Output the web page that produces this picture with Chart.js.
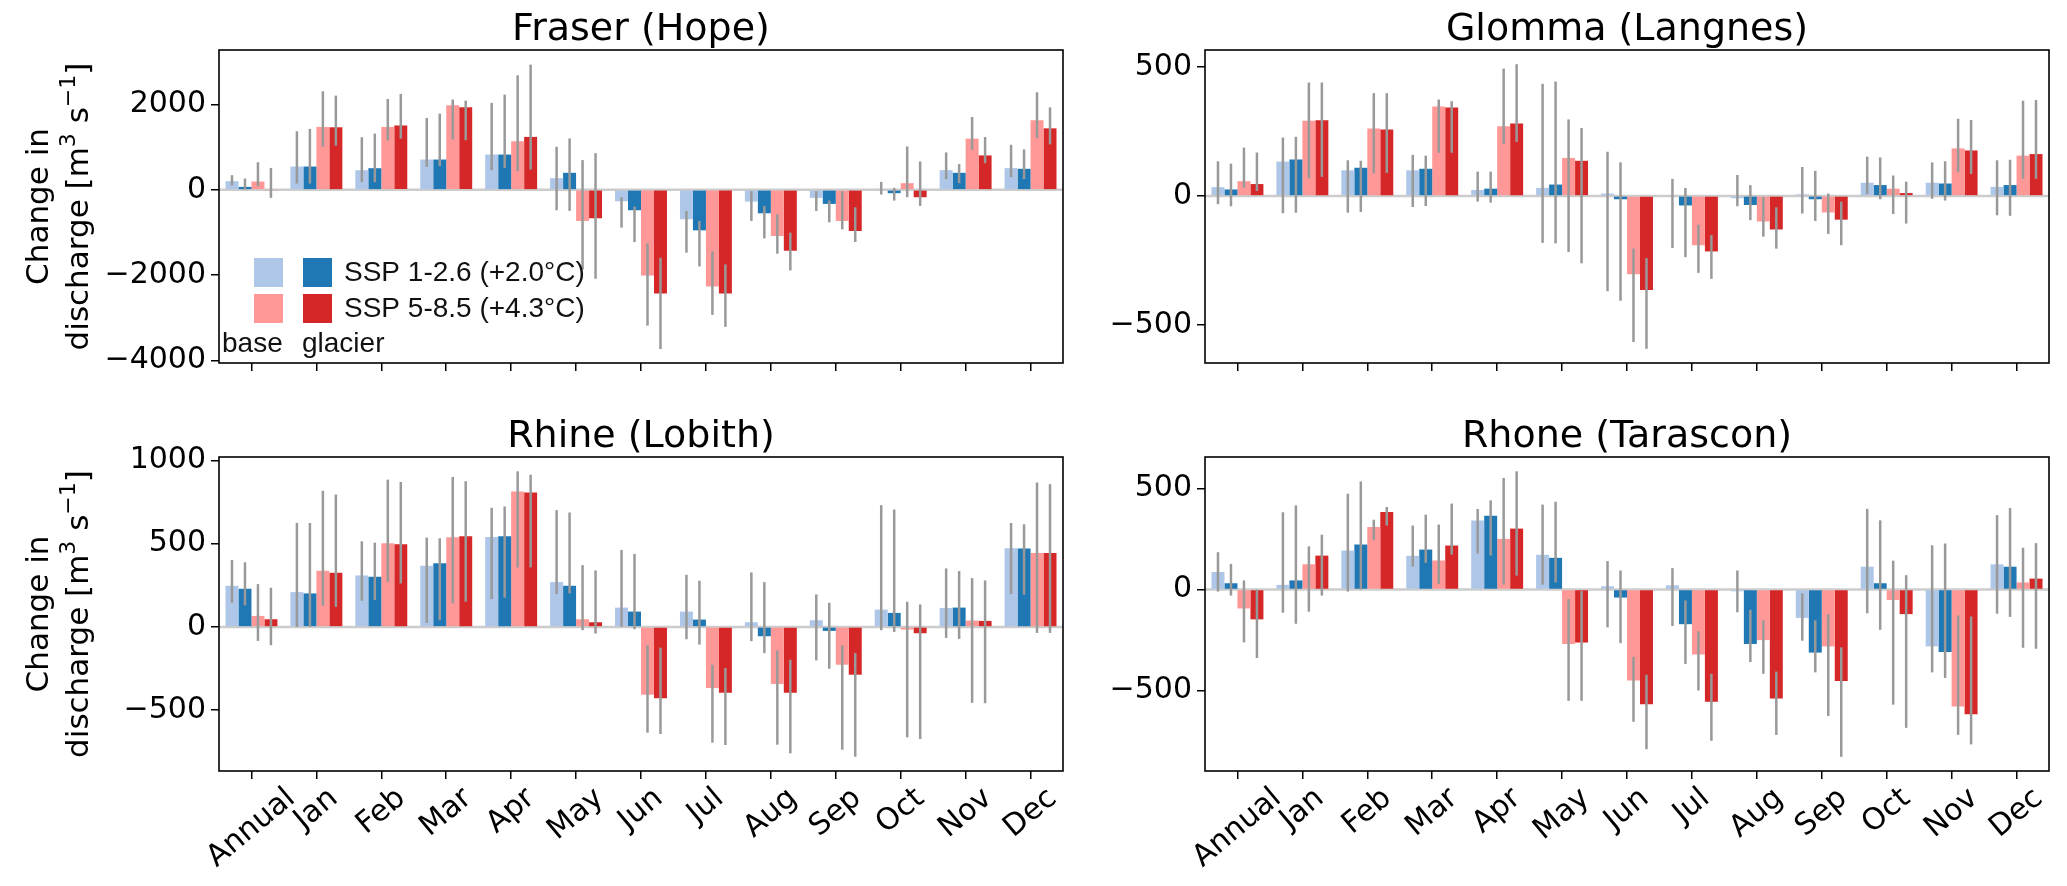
<!DOCTYPE html>
<html>
<head>
<meta charset="utf-8">
<script src="https://cdn.jsdelivr.net/npm/chart.js@4.4.0/dist/chart.umd.min.js"></script>
<style>
  body { margin: 0; background: #fff; width: 2067px; height: 886px; overflow: hidden; position: relative; }
  canvas { position: absolute; }
</style>
</head>
<body>
<canvas id="fraser" width="1100" height="400" style="left:0;top:0"></canvas>
<canvas id="glomma" width="967" height="400" style="left:1100px;top:0"></canvas>
<canvas id="rhine" width="1100" height="486" style="left:0;top:400px"></canvas>
<canvas id="rhone" width="967" height="486" style="left:1100px;top:400px"></canvas>
<script>
const months = ['Annual', 'Jan', 'Feb', 'Mar', 'Apr', 'May', 'Jun', 'Jul', 'Aug', 'Sep', 'Oct', 'Nov', 'Dec'];

// Fraser (Hope)
const fraserBase126 = [203, 547, 461, 711, 828, 274, -267, -690, -274, -188, 24, 463, 510];
const fraserGlac126 = [70, 547, 508, 711, 828, 400, -478, -949, -549, -329, -78, 400, 494];
const fraserBase585 = [195, 1476, 1476, 1984, 1140, -729, -2007, -2266, -1082, -729, 157, 1200, 1631];
const fraserGlac585 = [-15, 1468, 1507, 1937, 1242, -666, -2430, -2430, -1427, -964, -172, 808, 1443];
const fraserBase126Err = [[344,102],[1375,148],[1234,180],[1687,539],[2039,461],[1011,-478],[-172,-886],[-494,-1474],[-31,-729],[-31,-494],[188,-110],[878,251],[1058,298]];
const fraserGlac126Err = [[266,8],[1430,148],[1320,180],[1789,555],[2234,515],[1207,-494],[-392,-1223],[-729,-1795],[-376,-1137],[-251,-760],[47,-251],[604,157],[949,251]];
const fraserBase585Err = [[648,86],[2312,1008],[2132,1156],[2117,1180],[2687,437],[698,-1866],[-1254,-3183],[-1443,-2932],[-572,-1497],[-31,-925],[1019,-172],[1709,941],[2289,1215]];
const fraserGlac585Err = [[515,-187],[2210,1039],[2250,1203],[2093,1164],[2937,476],[862,-2085],[-1591,-3732],[-1748,-3214],[-1003,-1889],[-408,-1223],[666,-376],[1239,627],[1936,1066]];
const fraserTicks = [-4000, -2000, 0, 2000];

// Glomma (Langnes)
const glommaBase126 = [34, 133, 99, 99, 23, 31, 9, -4, -9, 6, 51, 51, 35];
const glommaGlac126 = [25, 141, 109, 105, 28, 44, -13, -37, -35, -13, 42, 48, 42];
const glommaBase585 = [57, 291, 261, 346, 270, 147, -303, -191, -99, -64, 28, 184, 156];
const glommaGlac585 = [46, 293, 257, 342, 280, 136, -364, -215, -130, -92, 11, 176, 162];
const glommaBase126Err = [[134,-32],[226,-67],[138,-65],[159,-43],[94,-22],[434,-182],[171,-369],[66,-202],[81,-40],[112,-68],[152,7],[130,-11],[138,-75]];
const glommaGlac126Err = [[125,-40],[229,-65],[136,-62],[156,-39],[94,-26],[443,-184],[130,-406],[31,-237],[42,-94],[97,-97],[149,-13],[134,-18],[140,-77]];
const glommaBase585Err = [[187,32],[439,68],[398,87],[373,167],[493,201],[296,-217],[-204,-566],[-112,-298],[-4,-158],[9,-147],[79,-70],[299,92],[369,66]];
const glommaGlac585Err = [[168,19],[439,74],[398,89],[367,167],[510,209],[263,-261],[-241,-592],[-152,-321],[-44,-204],[-22,-191],[55,-107],[294,85],[371,66]];
const glommaTicks = [-500, 0, 500];

// Rhine (Lobith)
const rhineBase126 = [247, 209, 309, 367, 540, 269, 116, 92, 28, 40, 104, 114, 472];
const rhineGlac126 = [229, 201, 301, 382, 544, 247, 92, 44, -56, -24, 84, 116, 470];
const rhineBase585 = [66, 337, 502, 538, 813, 46, -408, -367, -343, -227, -16, 38, 444];
const rhineGlac585 = [46, 325, 496, 544, 807, 28, -428, -396, -396, -287, -38, 36, 444];
const rhineBase126Err = [[402,145],[624,0],[514,157],[536,24],[715,167],[701,197],[462,0],[313,-74],[327,-86],[195,-201],[731,-20],[351,-66],[624,197]];
const rhineGlac126Err = [[388,129],[624,0],[506,161],[532,40],[723,175],[687,201],[438,-14],[277,-106],[269,-157],[145,-251],[705,-30],[335,-72],[616,193]];
const rhineBase585Err = [[257,-84],[817,127],[884,271],[900,141],[934,357],[371,-20],[-110,-635],[-227,-695],[-141,-707],[-110,-737],[151,-663],[293,-456],[867,-36]];
const rhineGlac585Err = [[235,-110],[795,120],[870,261],[875,151],[914,357],[339,-40],[-124,-643],[-247,-709],[-197,-759],[-157,-779],[135,-673],[279,-458],[857,-36]];
const rhineTicks = [-500, 0, 500, 1000];

// Rhone (Tarascon)
const rhoneBase126 = [87, 23, 193, 167, 342, 172, 16, 21, -9, -141, 113, -282, 125];
const rhoneGlac126 = [31, 45, 223, 198, 366, 157, -40, -172, -270, -313, 31, -310, 113];
const rhoneBase585 = [-94, 125, 310, 144, 251, -270, -451, -322, -251, -282, -52, -580, 35];
const rhoneGlac585 = [-148, 168, 384, 218, 302, -263, -569, -557, -540, -454, -122, -618, 54];
const rhoneBase126Err = [[185,-10],[383,-115],[475,-10],[317,114],[399,178],[421,24],[141,-188],[106,-181],[94,-113],[-19,-254],[400,-118],[219,-411],[369,-120]];
const rhoneGlac126Err = [[127,-30],[417,-170],[536,0],[371,132],[442,168],[435,35],[94,-266],[-54,-369],[-101,-360],[-153,-411],[343,-200],[228,-439],[404,-136]];
const rhoneBase585Err = [[45,-262],[214,-110],[346,244],[322,28],[553,25],[-47,-552],[-334,-656],[-207,-501],[-153,-418],[-122,-627],[143,-571],[-129,-721],[207,-289]];
const rhoneGlac585Err = [[0,-340],[272,-30],[409,317],[426,173],[586,69],[-7,-552],[-423,-792],[-418,-750],[-407,-721],[-287,-830],[71,-686],[-134,-768],[230,-294]];
const rhoneTicks = [-500, 0, 500];

const legendLabels = ['SSP 1-2.6 (+2.0°C)', 'SSP 5-8.5 (+4.3°C)'];
const colores = ['#aec7e8', '#1f77b4', '#ff9896', '#d62728'];

Chart.defaults.font.family = '"DejaVu Sans"';
Chart.defaults.color = '#000';

function menos(v) {
  return v < 0 ? '\u2212' + Math.abs(v) : String(v);
}

// texto con superindices tipo mathtext, centrado en (0, y)
function textoSup(ctx, partes, y, size) {
  const medir = (p) => {
    ctx.font = (p[1] ? Math.round(size * 0.7) : size) + 'px "DejaVu Sans"';
    return ctx.measureText(p[0]).width;
  };
  const total = partes.reduce((s, p) => s + medir(p), 0);
  let x = -total / 2;
  ctx.textAlign = 'left';
  partes.forEach((p) => {
    const w = medir(p);
    ctx.fillText(p[0], x, p[1] ? y - size * 0.33 : y);
    x += w;
  });
}

// linea de cero, barras de error, marco, titulos, etiquetas, leyenda
const decoPlugin = {
  id: 'deco',
  beforeDatasetsDraw(chart, args, o) {
    const ctx = chart.ctx, a = chart.chartArea;
    const y0 = chart.scales.y.getPixelForValue(0);
    ctx.save();
    ctx.strokeStyle = '#cccccc';
    ctx.lineWidth = 2.5;
    ctx.beginPath();
    ctx.moveTo(a.left, y0);
    ctx.lineTo(a.right, y0);
    ctx.stroke();
    ctx.restore();
  },
  afterDatasetsDraw(chart, args, o) {
    const ctx = chart.ctx, ys = chart.scales.y;
    ctx.save();
    ctx.strokeStyle = '#999999';
    ctx.lineWidth = 2.5;
    o.errs.forEach((err, i) => {
      const meta = chart.getDatasetMeta(i);
      err.forEach((e, j) => {
        const x = meta.data[j].x;
        ctx.beginPath();
        ctx.moveTo(x, ys.getPixelForValue(e[0]));
        ctx.lineTo(x, ys.getPixelForValue(e[1]));
        ctx.stroke();
      });
    });
    ctx.restore();
  },
  afterDraw(chart, args, o) {
    const ctx = chart.ctx, a = chart.chartArea;
    ctx.save();
    ctx.strokeStyle = '#000';
    ctx.lineWidth = 1.6;
    ctx.strokeRect(a.left, a.top, a.right - a.left, a.bottom - a.top);

    ctx.fillStyle = '#000';
    ctx.font = '38px "DejaVu Sans"';
    ctx.textAlign = 'center';
    ctx.textBaseline = 'alphabetic';
    ctx.fillText(o.title, (a.left + a.right) / 2, a.top - 10);

    if (o.ylabel) {
      ctx.save();
      ctx.translate(0, (a.top + a.bottom) / 2);
      ctx.rotate(-Math.PI / 2);
      ctx.font = '31px "DejaVu Sans"';
      ctx.textBaseline = 'middle';
      ctx.textAlign = 'center';
      ctx.fillText('Change in', 0, 40);
      textoSup(ctx, [['discharge [m', 0], ['3', 1], [' s', 0], ['\u22121', 1], [']', 0]], 80, 31);
      ctx.restore();
    }

    if (o.xlabels) {
      const xs = chart.scales.x;
      const ang = 40 * Math.PI / 180;
      ctx.font = '30px "DejaVu Sans"';
      ctx.textAlign = 'center';
      ctx.textBaseline = 'middle';
      months.forEach((m, j) => {
        const w = ctx.measureText(m).width;
        const h = 33;
        const H = w * Math.sin(ang) + h * Math.cos(ang);
        const x = xs.getPixelForTick(j);
        const y = a.bottom + 11 + H / 2;
        ctx.save();
        ctx.translate(x, y);
        ctx.rotate(-ang);
        ctx.fillText(m, 0, 0);
        ctx.restore();
      });
    }

    if (o.legend) {
      const px = a.left + 35, rows = [a.top + 222, a.top + 258];
      rows.forEach((ry, r) => {
        ctx.fillStyle = colores[r * 2];
        ctx.fillRect(px, ry - 14, 29, 29);
        ctx.fillStyle = colores[r * 2 + 1];
        ctx.fillRect(px + 49, ry - 14, 29, 29);
        ctx.fillStyle = '#111';
        ctx.font = '28px "Liberation Sans"';
        ctx.textAlign = 'left';
        ctx.textBaseline = 'middle';
        ctx.fillText(legendLabels[r], px + 90, ry + 1);
      });
      ctx.textBaseline = 'alphabetic';
      ctx.fillText('base', a.left + 3, a.top + 302);
      ctx.fillText('glacier', a.left + 83, a.top + 302);
    }
    ctx.restore();
  }
};

function crearPanel(id, titulo, series, errores, yMin, yMax, yTicks, p) {
  const ctx = document.getElementById(id);
  new Chart(ctx, {
    type: 'bar',
    data: {
      labels: months,
      datasets: series.map((s, i) => ({
        data: s,
        backgroundColor: colores[i],
        borderWidth: 0,
        categoryPercentage: 0.8,
        barPercentage: 1.0,
      })),
    },
    options: {
      responsive: false,
      animation: false,
      devicePixelRatio: 1,
      layout: { padding: { top: p.top, right: p.right, left: 0, bottom: 0 } },
      plugins: {
        legend: { display: false },
        tooltip: { enabled: false },
        deco: { title: titulo, errs: errores, ylabel: p.ylabel, xlabels: p.xlabels, legend: p.legend },
      },
      scales: {
        x: {
          offset: true,
          grid: { display: true, offset: false, drawOnChartArea: false, drawTicks: true, tickLength: 8, color: '#000', lineWidth: 1.5 },
          border: { display: false },
          ticks: { display: false },
          afterFit: (s) => { s.height = p.xH; },
        },
        y: {
          min: yMin,
          max: yMax,
          afterBuildTicks: (s) => { s.ticks = yTicks.map(v => ({ value: v })); },
          grid: { display: true, drawOnChartArea: false, drawTicks: true, tickLength: 8, color: '#000', lineWidth: 1.5 },
          border: { display: false },
          ticks: { font: { size: 30 }, padding: 5, callback: (v) => menos(v) },
          afterFit: (s) => { s.width = p.yW; },
        },
      },
    },
    plugins: [decoPlugin],
  });
}

crearPanel('fraser', 'Fraser (Hope)',
  [fraserBase126, fraserGlac126, fraserBase585, fraserGlac585],
  [fraserBase126Err, fraserGlac126Err, fraserBase585Err, fraserGlac585Err],
  -4060, 3280, fraserTicks,
  { top: 50, right: 37, yW: 219, xH: 37, ylabel: true, xlabels: false, legend: true });

crearPanel('glomma', 'Glomma (Langnes)',
  [glommaBase126, glommaGlac126, glommaBase585, glommaGlac585],
  [glommaBase126Err, glommaGlac126Err, glommaBase585Err, glommaGlac585Err],
  -647, 565, glommaTicks,
  { top: 50, right: 18, yW: 105, xH: 37, ylabel: false, xlabels: false, legend: false });

crearPanel('rhine', 'Rhine (Lobith)',
  [rhineBase126, rhineGlac126, rhineBase585, rhineGlac585],
  [rhineBase126Err, rhineGlac126Err, rhineBase585Err, rhineGlac585Err],
  -865, 1020, rhineTicks,
  { top: 57, right: 37, yW: 219, xH: 115, ylabel: true, xlabels: true, legend: false });

crearPanel('rhone', 'Rhone (Tarascon)',
  [rhoneBase126, rhoneGlac126, rhoneBase585, rhoneGlac585],
  [rhoneBase126Err, rhoneGlac126Err, rhoneBase585Err, rhoneGlac585Err],
  -900, 657, rhoneTicks,
  { top: 57, right: 18, yW: 105, xH: 115, ylabel: false, xlabels: true, legend: false });
</script>
</body>
</html>
